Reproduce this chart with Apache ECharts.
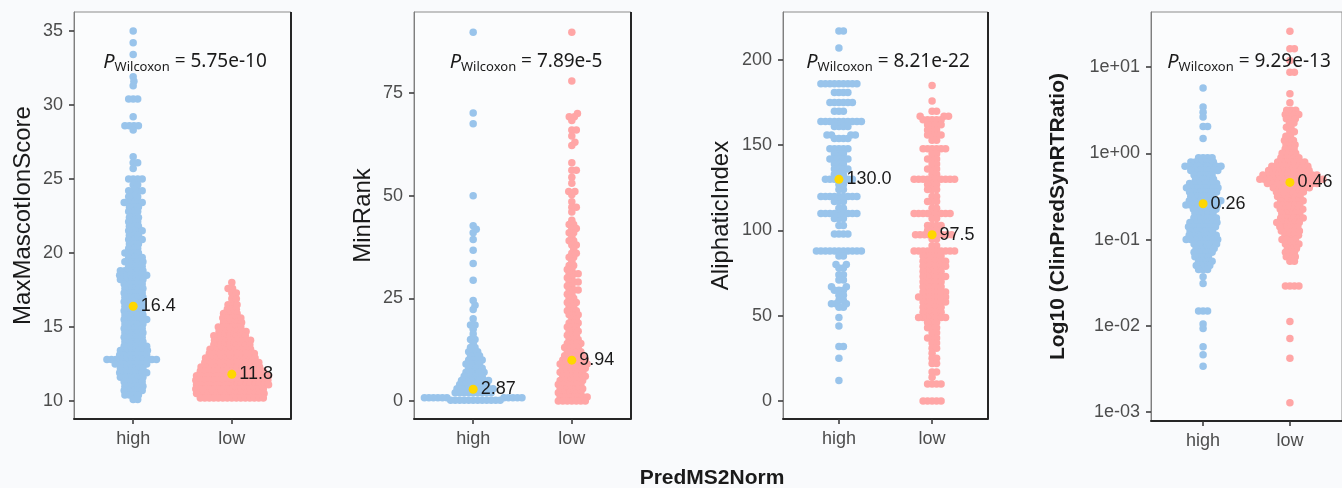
<!DOCTYPE html>
<html>
<head>
<meta charset="utf-8">
<script src="https://cdn.jsdelivr.net/npm/echarts@6/dist/echarts.min.js"></script>
<style>
html, body { margin: 0; background: #f9fafc; }
#main { width: 1342px; height: 488px; }
</style>
</head>
<body>
<div id="main"></div>
<script>
var groups = ['high', 'low'];
var yTitles = ['MaxMascotIonScore', 'MinRank', 'AliphaticIndex', 'Log10 (ClinPredSynRTRatio)'];
var pValues = ['5.75e-10', '7.89e-5', '8.21e-22', '9.29e-13'];
var medians = [[16.4, 11.8], [2.87, 9.94], [130, 97.5], [0.26, 0.46]];
var medianLabels = [['16.4', '11.8'], ['2.87', '9.94'], ['130.0', '97.5'], ['0.26', '0.46']];
var ticks1 = [10, 15, 20, 25, 30, 35];
var ticks2 = [0, 25, 50, 75];
var ticks3 = [0, 50, 100, 150, 200];
var ticks4 = [0.001, 0.01, 0.1, 1, 10];

// [value, number of dots at that value]
var scoreHigh = [[35.0,1],[34.2,1],[33.4,1],[31.9,1],[31.6,1],[31.3,1],[30.4,3],[29.2,1],[28.6,4],[28.3,1],[26.5,1],[26.1,2],[25.7,1],[25.0,4],[24.6,2],[24.2,4],[23.8,3],[23.4,5],[23.1,3],[22.8,3],[22.4,3],[22.1,3],[21.8,3],[21.5,4],[21.2,3],[20.9,4],[20.6,3],[20.3,3],[20.0,4],[19.7,4],[19.4,5],[19.1,4],[18.8,6],[18.5,7],[18.2,6],[17.9,5],[17.6,5],[17.3,5],[17.0,5],[16.7,5],[16.4,5],[16.1,5],[15.8,5],[15.5,6],[15.2,5],[14.9,5],[14.6,5],[14.3,5],[14.0,5],[13.7,6],[13.4,7],[13.1,7],[12.8,12],[12.5,8],[12.2,6],[11.9,7],[11.6,6],[11.3,5],[11.0,5],[10.7,5],[10.4,4],[10.1,2]];
var scoreLow = [[18.0,1],[17.6,2],[17.3,2],[16.9,2],[16.5,3],[16.2,3],[15.9,4],[15.6,5],[15.3,5],[15.0,6],[14.7,7],[14.4,8],[14.1,9],[13.8,9],[13.5,10],[13.2,11],[12.9,12],[12.6,13],[12.3,14],[12.0,15],[11.7,17],[11.4,17],[11.1,17],[10.8,16],[10.5,16],[10.2,15]];
var rankHigh = [[89.8,1],[70.1,1],[67.5,1],[50.0,1],[42.7,1],[41.8,1],[41.0,1],[39.3,1],[36.7,1],[33.5,1],[29.4,1],[24.5,1],[23.3,1],[22.3,1],[20.0,1],[18.5,2],[17.5,1],[16.3,1],[15.0,2],[14.0,1],[13.0,2],[12.0,3],[11.0,3],[10.0,4],[9.0,4],[8.0,4],[7.0,5],[6.0,5],[5.0,7],[4.0,7],[3.0,9],[2.0,9],[0.8,11],[0.2,12]];
var rankLow = [[89.8,1],[77.9,1],[70.0,1],[69.2,2],[68.3,1],[66.0,2],[64.5,1],[63.0,1],[62.2,1],[58.0,1],[56.2,2],[54.5,1],[53.0,1],[51.0,2],[50.2,1],[48.5,1],[47.2,2],[46.0,1],[44.0,1],[43.0,2],[42.0,2],[41.0,2],[40.0,1],[39.0,2],[38.0,2],[37.0,1],[36.0,2],[35.0,2],[34.0,1],[33.0,2],[32.0,2],[31.0,3],[30.0,2],[29.0,3],[28.0,2],[27.0,3],[26.0,2],[25.0,2],[24.0,3],[23.0,2],[22.0,3],[21.0,3],[20.0,2],[19.0,3],[18.0,3],[17.0,3],[16.0,3],[15.0,3],[14.0,4],[13.0,4],[12.0,4],[11.0,5],[10.0,6],[9.0,7],[8.0,6],[7.0,6],[6.0,6],[5.0,6],[4.0,6],[3.0,6],[2.0,6],[1.0,7],[0.0,7]];
var aliHigh = [[217,2],[207,1],[186,9],[181,4],[175,6],[170,3],[164,10],[161,4],[156,4],[154,4],[148,5],[145,3],[142,5],[139,3],[136,4],[133,3],[130,7],[127,2],[124,2],[120,9],[117,3],[113,2],[110,9],[107,3],[103,2],[98,4],[88,11],[85,2],[80,2],[78,2],[74,2],[71,2],[67,2],[65,3],[62,2],[59,2],[57,3],[55,2],[49,1],[44,1],[32,2],[25,1],[12,1]];
var aliLow = [[185,1],[176,1],[170,2],[167,3],[165,5],[162,4],[159,3],[156,4],[153,2],[148,6],[145,2],[142,3],[139,2],[136,3],[133,2],[130,10],[127,3],[124,3],[120,2],[117,3],[113,2],[110,9],[107,2],[103,4],[100,3],[97.5,9],[95,2],[91,2],[88,10],[85,5],[82,6],[79,6],[76,5],[73,6],[70,5],[67,5],[64,6],[61,7],[58,6],[55,5],[52,5],[49,7],[46,3],[43,3],[40,2],[37,3],[34,2],[31,2],[28,1],[25,2],[22,2],[17,2],[14,1],[10,4],[0,5]];
var rtHigh = [[5.7,1],[3.45,1],[3.0,1],[2.63,1],[2.05,2],[1.48,1],[0.891,4],[0.794,6],[0.708,9],[0.631,7],[0.562,5],[0.501,5],[0.447,7],[0.398,8],[0.355,7],[0.316,6],[0.282,8],[0.251,8],[0.224,6],[0.2,5],[0.178,6],[0.158,7],[0.141,7],[0.126,6],[0.112,7],[0.1,8],[0.089,6],[0.079,5],[0.071,5],[0.063,4],[0.056,4],[0.05,4],[0.045,3],[0.037,1],[0.031,1],[0.0148,3],[0.0105,1],[0.0093,1],[0.0057,1],[0.0046,1],[0.0034,1]];
var rtLow = [[26,1],[16.3,2],[11.9,1],[8.7,2],[4.9,1],[3.86,1],[3.16,3],[2.82,4],[2.51,3],[2.24,2],[2.0,2],[1.78,2],[1.58,2],[1.41,3],[1.26,3],[1.12,3],[1.0,4],[0.891,5],[0.794,7],[0.708,9],[0.631,10],[0.562,13],[0.501,15],[0.447,12],[0.398,9],[0.355,7],[0.316,6],[0.282,6],[0.251,6],[0.224,6],[0.2,5],[0.178,6],[0.158,6],[0.141,5],[0.126,5],[0.112,4],[0.1,4],[0.089,4],[0.079,3],[0.071,3],[0.063,3],[0.056,2],[0.029,4],[0.0112,1],[0.0071,1],[0.0042,1],[0.00128,1]];

var blue = '#99c4eb';
var pink = '#ffa6a6';
var gap = 4.5; // dot spacing in the swarm, px

function expand(pairs) {
    var out = [];
    pairs.forEach(function (p) {
        for (var k = 0; k < p[1]; k++) out.push(p[0]);
    });
    return out;
}

// simple beeswarm: each dot goes as near the centre as it can without overlap
function swarm(ys, d) {
    var order = ys.map(function (y, i) { return i; }).sort(function (a, b) { return ys[b] - ys[a]; });
    var placed = [];
    var out = [];
    order.forEach(function (i) {
        var y = ys[i];
        var near = placed.filter(function (p) { return Math.abs(p.y - y) < d; });
        var cands = [0];
        near.forEach(function (p) {
            var dx = Math.sqrt(d * d - (p.y - y) * (p.y - y));
            cands.push(p.x + dx, p.x - dx);
        });
        cands.sort(function (a, b) { return Math.abs(a) - Math.abs(b); });
        var best = 0;
        for (var c = 0; c < cands.length; c++) {
            var x = cands[c];
            var ok = near.every(function (p) {
                return (p.x - x) * (p.x - x) + (p.y - y) * (p.y - y) >= d * d - 1e-6;
            });
            if (ok) { best = x; break; }
        }
        placed.push({x: best, y: y});
        out[i] = best;
    });
    return out;
}

function logLabel(v) {
    var e = Math.round(Math.log10(v));
    return '1e' + (e < 0 ? '-' : '+') + String(Math.abs(e)).padStart(2, '0');
}

var panels = [
    {left: 74, width: 217, height: 407, min: 8.78, max: 36.28, ticks: ticks1, nameGap: 39, high: scoreHigh, low: scoreLow, px: 185},
    {left: 414, width: 217, height: 407, min: -4.38, max: 94.72, ticks: ticks2, nameGap: 39, high: rankHigh, low: rankLow, px: 526},
    {left: 783, width: 205, height: 407, min: -10.56, max: 228.15, ticks: ticks3, nameGap: 50, high: aliHigh, low: aliLow, px: 888},
    {left: 1151, width: 199, height: 409, min: 0.000787, max: 43.5, ticks: ticks4, nameGap: 82, high: rtHigh, low: rtLow, px: 1249, log: true}
];

var option = {
    backgroundColor: '#f9fafc',
    animation: false,
    grid: [],
    xAxis: [],
    yAxis: [],
    series: [],
    graphic: []
};

panels.forEach(function (p, i) {
    option.grid.push({
        left: p.left, top: 12, width: p.width, height: p.height,
        show: true, borderColor: '#8c8c8c', borderWidth: 1, backgroundColor: '#fbfcfd'
    });
    option.xAxis.push({
        gridIndex: i, type: 'value', min: 0.4, max: 2.6,
        splitLine: {show: false},
        axisLine: {onZero: false, lineStyle: {color: '#262626', width: 2}},
        axisTick: {customValues: [1, 2], length: 5, lineStyle: {color: '#333', width: 1.5}},
        axisLabel: {
            customValues: [1, 2],
            formatter: function (v) { return groups[Math.round(v) - 1]; },
            fontSize: 18, color: '#4d4d4d', margin: 11, fontFamily: 'Liberation Sans'
        }
    });
    option.yAxis.push({
        gridIndex: i, type: p.log ? 'log' : 'value', min: p.min, max: p.max,
        name: yTitles[i], nameLocation: 'middle', nameGap: p.nameGap,
        nameTextStyle: p.log
            ? {fontSize: 21, fontWeight: 'bold', color: '#1a1a1a', fontFamily: 'Liberation Sans'}
            : {fontSize: 24, color: '#1a1a1a', fontFamily: 'Liberation Sans'},
        splitLine: {show: false},
        axisLine: {show: true, onZero: false, lineStyle: {color: '#7f7f7f', width: 1}},
        axisTick: {show: true, customValues: p.ticks, length: 5, lineStyle: {color: '#333', width: 1.5}},
        axisLabel: {
            customValues: p.ticks,
            formatter: p.log ? logLabel : null,
            fontSize: 18, color: '#4d4d4d', margin: 11, fontFamily: 'Liberation Sans'
        }
    });
    option.series.push(
        {type: 'scatter', xAxisIndex: i, yAxisIndex: i, symbolSize: 7.5, itemStyle: {color: blue, opacity: 1}, silent: true, data: []},
        {type: 'scatter', xAxisIndex: i, yAxisIndex: i, symbolSize: 7.5, itemStyle: {color: pink, opacity: 1}, silent: true, data: []},
        {
            type: 'scatter', xAxisIndex: i, yAxisIndex: i, symbolSize: 9, z: 5,
            itemStyle: {color: '#ffd700', opacity: 1}, silent: true,
            data: [[1, medians[i][0]], [2, medians[i][1]]],
            label: {
                show: true, position: 'right', distance: 3,
                formatter: function (d) { return medianLabels[i][d.dataIndex]; },
                fontSize: 18, color: '#1a1a1a', fontFamily: 'Liberation Sans'
            }
        }
    );
    // darker right edge of the panel frame
    option.graphic.push({
        type: 'line', silent: true,
        shape: {x1: p.left + p.width, y1: 12, x2: p.left + p.width, y2: 12 + p.height},
        style: {stroke: '#262626', lineWidth: 2}
    });
    option.graphic.push({
        type: 'text', silent: true, x: p.px, y: 62, z: 10,
        style: {
            text: '{p|P}{s|Wilcoxon}{t| = ' + pValues[i] + '}',
            align: 'center', verticalAlign: 'middle',
            rich: {
                p: {fontSize: 20, fontStyle: 'italic', fontFamily: 'Noto Sans', fill: '#1a1a1a', verticalAlign: 'middle', lineHeight: 24},
                s: {fontSize: 13, fontFamily: 'Noto Sans', fill: '#1a1a1a', verticalAlign: 'bottom', lineHeight: 12},
                t: {fontSize: 19, fontFamily: 'Noto Sans', fill: '#1a1a1a', verticalAlign: 'middle', lineHeight: 24}
            }
        }
    });
});

option.graphic.push({
    type: 'text', silent: true, x: 712, y: 478,
    style: {
        text: 'PredMS2Norm', align: 'center', verticalAlign: 'middle',
        fontSize: 21, fontWeight: 'bold', fontFamily: 'Liberation Sans', fill: '#1a1a1a'
    }
});

var chart = echarts.init(document.getElementById('main'));
chart.setOption(option);

// lay out the swarms in pixel space through the axes, then map back to data
panels.forEach(function (p, i) {
    [p.high, p.low].forEach(function (pairs, g) {
        var vals = expand(pairs);
        var cx = chart.convertToPixel({gridIndex: i}, [g + 1, vals[0]])[0];
        var ys = vals.map(function (v) { return chart.convertToPixel({gridIndex: i}, [g + 1, v])[1]; });
        var dx = swarm(ys, gap);
        option.series[i * 3 + g].data = vals.map(function (v, k) {
            return [chart.convertFromPixel({gridIndex: i}, [cx + dx[k], ys[k]])[0], v];
        });
    });
});
chart.setOption(option);
</script>
</body>
</html>
